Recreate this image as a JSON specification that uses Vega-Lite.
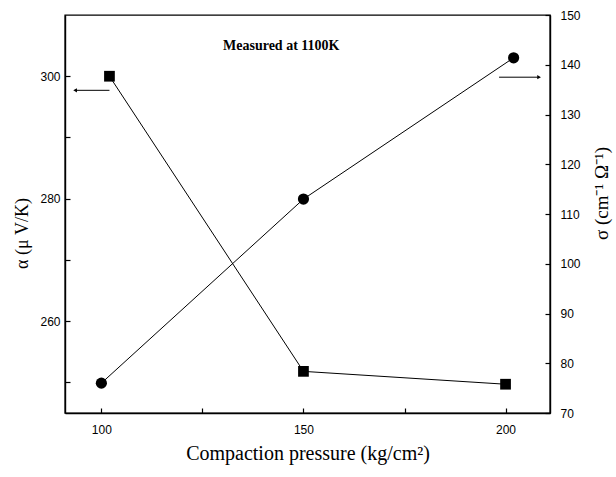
{
  "$schema": "https://vega.github.io/schema/vega-lite/v6.json",
  "width": 485,
  "height": 398,
  "autosize": {"type": "none"},
  "padding": {"left": 65, "top": 15, "right": 66, "bottom": 64},
  "background": "white",
  "config": {
    "view": {"stroke": "black", "strokeWidth": 1.4},
    "axis": {
      "domainColor": "black",
      "domainWidth": 1.4,
      "tickColor": "black",
      "tickWidth": 1.2,
      "tickSize": -5,
      "grid": false,
      "labelFont": "Liberation Sans",
      "labelFontSize": 12,
      "labelColor": "black",
      "titleFont": "Liberation Serif",
      "titleFontWeight": "normal",
      "titleColor": "black",
      "titleFontSize": 18
    }
  },
  "layer": [
    {
      "layer": [
        {
          "data": {"values": [
            {"p": 102, "alpha": 300},
            {"p": 150, "alpha": 251.8},
            {"p": 200, "alpha": 249.7}
          ]},
          "layer": [
            {"mark": {"type": "line", "color": "black", "strokeWidth": 1}, "encoding": {}},
            {"mark": {"type": "point", "shape": "square", "filled": true, "color": "black", "opacity": 1, "size": 115}, "encoding": {}}
          ]
        },
        {
          "data": {"values": [{"p": 102, "p2": 93.5, "alpha": 297.7}]},
          "layer": [
            {"mark": {"type": "rule", "color": "black", "strokeWidth": 1}, "encoding": {"x2": {"field": "p2"}}},
            {"mark": {"type": "point", "shape": "triangle-left", "filled": true, "color": "black", "opacity": 1, "size": 18}, "encoding": {"x": {"field": "p2", "type": "quantitative"}}}
          ]
        },
        {
          "data": {"values": [{"p": 144.5, "alpha": 304.9, "label": "Measured at 1100K"}]},
          "mark": {"type": "text", "font": "Liberation Serif", "fontWeight": "bold", "fontSize": 14, "color": "black"},
          "encoding": {"text": {"field": "label"}}
        }
      ],
      "encoding": {
        "x": {
          "field": "p", "type": "quantitative",
          "scale": {"domain": [91, 211], "nice": false, "zero": false},
          "axis": {
            "title": "Compaction pressure (kg/cm²)",
            "titleFontSize": 20,
            "values": [100, 125, 150, 175, 200],
            "labelExpr": "datum.value % 50 == 0 ? datum.label : ''",
            "labelPadding": 16,
            "titleY": 40,
            "titleBaseline": "middle"
          }
        },
        "y": {
          "field": "alpha", "type": "quantitative",
          "scale": {"domain": [245, 310], "nice": false, "zero": false},
          "axis": {
            "orient": "left",
            "title": "α (μ V/K)",
            "values": [250, 260, 270, 280, 290, 300],
            "labelExpr": "datum.value % 20 == 0 ? datum.label : ''",
            "labelPadding": 10,
            "titleAngle": -90,
            "titleX": -43,
            "titleY": 218,
            "titleBaseline": "middle",
            "titleAlign": "center"
          }
        }
      }
    },
    {
      "layer": [
        {
          "data": {"values": [
            {"p": 100, "sigma": 76},
            {"p": 150, "sigma": 113},
            {"p": 202, "sigma": 141.4}
          ]},
          "layer": [
            {"mark": {"type": "line", "color": "black", "strokeWidth": 1}, "encoding": {}},
            {"mark": {"type": "point", "shape": "circle", "filled": true, "color": "black", "opacity": 1, "size": 125}, "encoding": {}}
          ]
        },
        {
          "data": {"values": [{"p": 198.4, "p2": 208.3, "sigma": 137.5}]},
          "layer": [
            {"mark": {"type": "rule", "color": "black", "strokeWidth": 1}, "encoding": {"x2": {"field": "p2"}}},
            {"mark": {"type": "point", "shape": "triangle-right", "filled": true, "color": "black", "opacity": 1, "size": 18}, "encoding": {"x": {"field": "p2", "type": "quantitative"}}}
          ]
        }
      ],
      "encoding": {
        "x": {"field": "p", "type": "quantitative"},
        "y": {
          "field": "sigma", "type": "quantitative",
          "scale": {"domain": [70, 150], "nice": false, "zero": false},
          "axis": {
            "orient": "right",
            "title": "σ (cm⁻¹ Ω⁻¹)",
            "titleFontSize": 19,
            "values": [70, 80, 90, 100, 110, 120, 130, 140, 150],
            "labelPadding": 15,
            "titleAngle": -90,
            "titleX": 51,
            "titleY": 178,
            "titleBaseline": "middle",
            "titleAlign": "center"
          }
        }
      }
    }
  ],
  "resolve": {"scale": {"y": "independent"}}
}
